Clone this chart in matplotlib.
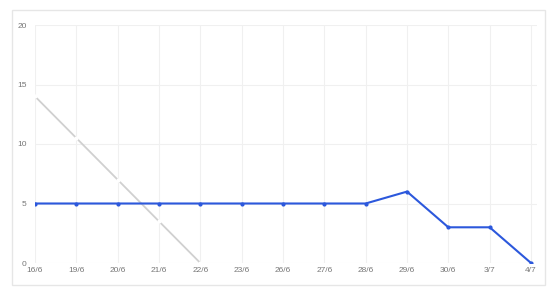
import numpy as np
import matplotlib
matplotlib.use("Agg")
from matplotlib import pyplot as plt
from matplotlib.patches import Rectangle

# categories and series
dateLabels  = ["16/6", "19/6", "20/6", "21/6", "22/6", "23/6", "26/6",
               "27/6", "28/6", "29/6", "30/6", "3/7", "4/7"]
blueValues  = [5, 5, 5, 5, 5, 5, 5, 5, 5, 6, 3, 3, 0]
greyValues  = [14, 10.5, 7, 3.5, 0]
yTicks      = [0, 5, 10, 15, 20]

plt.rcParams['font.family'] = ['Liberation Sans', 'DejaVu Sans']

W, H = 554, 288
fig = plt.figure(figsize=(W / 100, H / 100), dpi=100)
fig.patch.set_facecolor("white")

# card border
fig.add_artist(Rectangle((12 / W, 1 - 285 / H), 533 / W, 275 / H,
                         transform=fig.transFigure, fill=False,
                         edgecolor="#e6e6e6", linewidth=1.0))

spacing = (531 - 35) / 12
ax = fig.add_axes([35 / W, 1 - 263 / H, (537 - 35) / W, (263 - 25) / H])
ax.set_xlim(0, 12 + 6 / spacing)
ax.set_ylim(0, 20)

xs = np.arange(len(dateLabels))
ax.plot(xs[:len(greyValues)], greyValues, color="#d0d0d0", linewidth=1.3,
        marker="o", markersize=2.0, markerfacecolor="white",
        markeredgecolor="white", zorder=2)
ax.plot(xs, blueValues, color="#2c58dc", linewidth=1.5,
        marker="o", markersize=2.0, zorder=3)

ax.set_xticks(xs)
ax.set_xticklabels(dateLabels)
ax.set_yticks(yTicks)
ax.grid(True, color="#f0f0f0", linewidth=0.8)
ax.set_axisbelow(True)
for s in ax.spines.values():
    s.set_visible(False)
ax.tick_params(length=0, labelsize=6, labelcolor="#777777")
ax.tick_params(axis="x", pad=3)
ax.tick_params(axis="y", pad=6)

fig.savefig("out.png", dpi=100)
